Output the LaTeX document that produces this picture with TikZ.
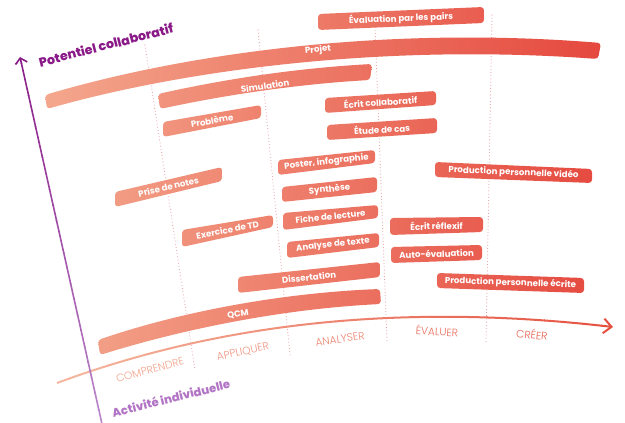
\documentclass[tikz,border=0pt]{standalone}
\usepackage{fontspec}
\setmainfont{Poppins}
\newfontfamily\pxb{Poppins ExtraBold}
\newfontfamily\plight{Poppins Light}
\usetikzlibrary{arrows.meta}
\definecolor{cL}{HTML}{F4A88E}
\definecolor{cR}{HTML}{E5473D}
\definecolor{pDark}{HTML}{8A1C87}
\definecolor{pLight}{HTML}{B985CA}
\definecolor{aL}{HTML}{F6B8A0}
\definecolor{aR}{HTML}{E5503F}
\definecolor{dotc}{HTML}{E79AA2}
\definecolor{titlep}{HTML}{8B1A89}
\definecolor{actp}{HTML}{B274C4}
\tikzset{
  bartext/.style={text=white, font=\bfseries\fontsize{6.5}{7}\selectfont, inner sep=0pt},
  dotline/.style={dotc, line width=0.8pt, dash pattern=on 0pt off 2.4pt, line cap=round},
  axlabel/.style={font=\plight\fontsize{8}{9}\selectfont, inner sep=0pt},
  ptitle/.style={font=\pxb\fontsize{9.5}{11}\selectfont, inner sep=0pt},
}
\newcommand\tb[8]{%
  \pgfmathtruncatemacro\pa{max(0,min(100,(#1-40)/5.7))}%
  \pgfmathtruncatemacro\pb{max(0,min(100,(#4-40)/5.7))}%
  \shade[left color=cR!\pa!cL, right color=cR!\pb!cL, rounded corners=2.5pt]
    (#1,#2) -- (#4,#5) -- (#4,#6) -- (#1,#3) -- cycle;
  \path (#1,{(#2+#3)/2}) -- (#4,{(#5+#6)/2}) node[bartext, midway, sloped] (#7) {#8};
}
\begin{document}
\begin{tikzpicture}[x=0.75pt, y=-0.75pt]
\useasboundingbox[fill=white] (0,0) rectangle (625,423);
% dotted column separators
\coordinate (d1a) at (145,45);  \coordinate (d1b) at (195,370);
\coordinate (d2a) at (258,30);  \coordinate (d2b) at (290,355);
\coordinate (d3a) at (375,27);  \coordinate (d3b) at (387,342);
\coordinate (d4a) at (492,15);  \coordinate (d4b) at (486,342);
\draw[dotline] (d1a) -- (d1b);
\draw[dotline] (d2a) -- (d2b);
\draw[dotline] (d3a) -- (d3b);
\draw[dotline] (d4a) -- (d4b);
% horizontal axis (gradient by strips)
\coordinate (h0) at (57,383);
\coordinate (h1) at (613,327);
\foreach \i in {0,...,29} {
  \pgfmathsetmacro\xa{50+\i*19}
  \pgfmathsetmacro\xb{\xa+19.5}
  \pgfmathtruncatemacro\pp{100*\i/29}
  \begin{scope}
    \clip (\xa,250) rectangle (\xb,400);
    \draw[aR!\pp!aL, line width=1.5pt, -{Straight Barb[length=6pt,width=11pt]}]
      (h0) .. controls (200,330) and (380,300) .. (h1);
  \end{scope}
}
% vertical axis (gradient by strips)
\coordinate (vb) at (102,424);
\coordinate (vt) at (20,57);
\foreach \i in {0,...,23} {
  \pgfmathsetmacro\ya{48+\i*15.7}
  \pgfmathsetmacro\yb{\ya+15.8}
  \pgfmathtruncatemacro\pp{100*\i/23}
  \begin{scope}
    \clip (0,\ya) rectangle (140,\yb);
    \draw[pLight!\pp!pDark, line width=1.2pt, -{Straight Barb[length=4pt,width=9pt]}] (vb) -- (vt);
  \end{scope}
}
% axis titles
\node[ptitle, text=titlep, rotate=14.4] (tpc) at (106,45) {Potentiel collaboratif};
\node[ptitle, text=actp, rotate=14, font=\pxb\fontsize{8.7}{10}\selectfont] (tai) at (171,398) {Activité individuelle};
% level labels
\node[axlabel, text={rgb,255:red,242;green,163;blue,138}, rotate=15] (lc) at (150,370) {COMPRENDRE};
\node[axlabel, text={rgb,255:red,240;green,149;blue,128}, rotate=12] (la) at (243,352) {APPLIQUER};
\node[axlabel, text={rgb,255:red,236;green,132;blue,112}, rotate=8] (ln) at (340,339) {ANALYSER};
\node[axlabel, text={rgb,255:red,232;green,112;blue,94}, rotate=-3] (le) at (437,331) {ÉVALUER};
\node[axlabel, text={rgb,255:red,230;green,96;blue,79}, rotate=-6] (lr) at (532,334) {CRÉER};
% curved bars
\shade[left color=cR!1!cL, right color=cR!99!cL, rounded corners=2.5pt]
  (45,95) .. controls (180,55) and (380,25) .. (601,43) -- (598,59)
  .. controls (380,43) and (180,71) .. (47,109) -- cycle;
\node[bartext, rotate=6] (projet) at (318,50) {Projet};
\shade[left color=cR!21!cL, right color=cR!58!cL, rounded corners=2.5pt]
  (158,94) .. controls (230,78) and (300,68) .. (372,64) -- (370,80)
  .. controls (300,84) and (230,94) .. (160,109) -- cycle;
\node[bartext, rotate=8] (simu) at (265,86) {Simulation};
\shade[left color=cR!10!cL, right color=cR!60!cL, rounded corners=2.5pt]
  (98,340) .. controls (180,312) and (280,293) .. (380,289) -- (381,304)
  .. controls (280,309) and (180,330) .. (100,355) -- cycle;
\node[bartext, rotate=9] (qcm) at (238,314) {QCM};
% straight bars
\tb{318}{14}{30}{484}{7}{23}{evp}{Évaluation par les pairs}
\tb{163}{122}{137}{261}{105}{118}{prob}{Problème}
\tb{325}{98}{113}{436}{91}{105}{ecol}{Écrit collaboratif}
\tb{327}{125}{140}{437}{118}{133}{etu}{Étude de cas}
\tb{115}{192}{207}{222}{167}{181}{prise}{Prise de notes}
\tb{278}{160}{175}{375}{150}{163}{post}{Poster, infographie}
\tb{282}{187}{202}{377}{177}{192}{synt}{Synthèse}
\tb{283}{213}{230}{378}{205}{218}{fich}{Fiche de lecture}
\tb{287}{242}{258}{379}{233}{247}{anat}{Analyse de texte}
\tb{182}{230}{247}{273}{215}{227}{extd}{Exercice de TD}
\tb{238}{277}{293}{380}{262}{277}{diss}{Dissertation}
\tb{435}{162}{177}{592}{169}{183}{ppv}{Production personnelle vidéo}
\tb{390}{218}{235}{483}{217}{232}{erf}{Écrit réflexif}
\tb{391}{247}{263}{482}{245}{260}{auto}{Auto-évaluation}
\tb{437}{273}{288}{584}{278}{293}{ppe}{Production personnelle écrite}
\end{tikzpicture}
\end{document}
